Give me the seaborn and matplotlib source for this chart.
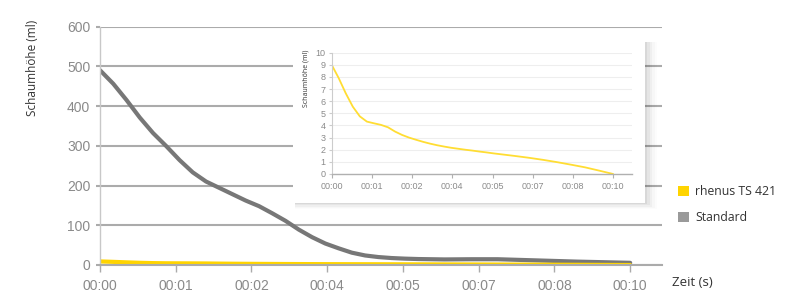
import numpy as np
import pandas as pd
import matplotlib
matplotlib.use("Agg")
import matplotlib.pyplot as plt
from matplotlib.patches import Rectangle, Patch
import seaborn as sns

# ---- data ----
zeit = [0.0, 0.25, 0.5, 0.75, 1.0, 1.25, 1.5, 1.75, 2.0, 2.25, 2.5, 2.75,
        3.0, 3.25, 3.5, 3.75, 4.0, 4.25, 4.5, 4.75, 5.0, 5.25, 5.5, 5.75,
        6.0, 6.5, 7.0, 7.5, 8.0, 8.5, 9.0, 9.5, 10.0]
standard = [490, 456, 415, 371, 332, 299, 264, 233, 210, 194, 178, 162,
            148, 130, 111, 89, 70, 54, 42, 31, 24, 20, 17.5, 16,
            15, 14, 14.5, 14.5, 12.5, 10.5, 8.5, 7, 5.5]
rhenus = [9.0, 7.9, 6.65, 5.55, 4.75, 4.32, 4.18, 4.05, 3.85, 3.5, 3.22, 3.0,
          2.82, 2.65, 2.5, 2.37, 2.26, 2.16, 2.08, 2.0, 1.93, 1.85, 1.78, 1.70,
          1.63, 1.49, 1.34, 1.17, 0.98, 0.77, 0.55, 0.28, 0.0]
tick_pos = list(np.linspace(0, 10, 8))
tick_labels = ["00:00", "00:01", "00:02", "00:04", "00:05", "00:07", "00:08", "00:10"]
series_names = ["rhenus TS 421", "Standard"]

sns.set_theme(style="white")
plt.rcParams["font.family"] = ["Liberation Sans", "DejaVu Sans"]

YELLOW = "#FFD400"
GREY = "#777777"
TICKC = "#8a8a8a"
DARK = "#333333"
OPEN = ["Open Sans", "DejaVu Sans"]

df_std = pd.DataFrame({"t": zeit, "v": standard})
df_rh = pd.DataFrame({"t": zeit, "v": rhenus})

fig = plt.figure(figsize=(8.0, 3.02), dpi=100)
fig.patch.set_facecolor("white")

# ---- main axes ----
ax = fig.add_axes([100/800, 1-265/302, 562/800, 238.5/302])
sns.lineplot(data=df_std, x="t", y="v", ax=ax, color=GREY, lw=3.0)
sns.lineplot(data=df_rh, x="t", y="v", ax=ax, color=YELLOW, lw=3.0)
ax.set_xlim(0, 10.6)
ax.set_ylim(0, 600)
ax.set_yticks(range(0, 601, 100))
ax.set_xticks(tick_pos)
ax.set_xticklabels(tick_labels)
ax.set_xlabel("")
ax.set_ylabel("")
ax.grid(axis="y", color="#ababab", lw=1.5)
ax.set_axisbelow(True)
for s in ["top", "right"]:
    ax.spines[s].set_visible(False)
ax.spines["left"].set_color("#c8c8c8")
ax.spines["left"].set_linewidth(1.0)
ax.spines["bottom"].set_color("#ababab")
ax.spines["bottom"].set_linewidth(1.5)
ax.tick_params(axis="x", direction="out", length=5, width=1.0, color="#ababab",
               labelsize=10, labelcolor=TICKC, pad=5, bottom=True)
ax.tick_params(axis="y", direction="out", length=3, width=1.5, color="#ababab",
               labelsize=10, labelcolor=TICKC, pad=4, left=True)

fig.text(33/800, 1-68/302, "Schaumhöhe (ml)", rotation=90, va="center", ha="center",
         fontsize=8.5, color=DARK, family=OPEN)
fig.text(672/800, 1-282/302, "Zeit (s)", va="center", ha="left",
         fontsize=9.5, color=DARK, family=OPEN)

# ---- legend ----
handles = [Patch(facecolor=YELLOW, edgecolor="none"),
           Patch(facecolor="#9a9a9a", edgecolor="none")]
leg = fig.legend(handles, series_names, loc="upper left",
                 bbox_to_anchor=(667/800, 1-174/302), frameon=False,
                 handlelength=0.9, handleheight=0.9, handletextpad=0.5,
                 labelspacing=1.05, prop={"family": OPEN, "size": 8.8})
for t in leg.get_texts():
    t.set_color(DARK)

# ---- inset box with shadow ----
bx0, by0, bx1, by1 = 293, 42, 645, 203
for i, a in enumerate([0.05, 0.04, 0.03, 0.02, 0.012]):
    d = 2 + i * 2.5
    fig.patches.append(Rectangle(((bx0 + 2) / 800, 1 - (by1 + d * 0.5) / 302),
                                 (bx1 - bx0 - 2 + d) / 800, (by1 - by0 + d * 0.5) / 302,
                                 transform=fig.transFigure, facecolor="black",
                                 edgecolor="none", alpha=a, zorder=5))
fig.patches.append(Rectangle((bx0 / 800, 1 - by1 / 302), (bx1 - bx0) / 800,
                             (by1 - by0) / 302, transform=fig.transFigure,
                             facecolor="white", edgecolor="none", zorder=6))

# ---- inset axes ----
ins = fig.add_axes([331.7/800, 1-174/302, 300/800, 121.3/302], zorder=7)
ins.patch.set_alpha(0)
sns.lineplot(data=df_rh, x="t", y="v", ax=ins, color="#FFDD33", lw=1.3)
ins.set_xlim(0, 10.66)
ins.set_ylim(0, 10)
ins.set_yticks(range(0, 11))
ins.set_xticks(tick_pos)
ins.set_xticklabels(tick_labels)
ins.set_xlabel("")
ins.set_ylabel("")
ins.grid(axis="y", color="#eeeeee", lw=0.8)
ins.set_axisbelow(True)
for s in ["top", "right"]:
    ins.spines[s].set_visible(False)
ins.spines["left"].set_color("#cccccc")
ins.spines["left"].set_linewidth(0.8)
ins.spines["bottom"].set_color("#b0b0b0")
ins.spines["bottom"].set_linewidth(1.0)
ins.tick_params(axis="x", direction="out", length=3, width=0.8, color="#b0b0b0",
                labelsize=6.5, labelcolor=TICKC, pad=3, bottom=True)
ins.tick_params(axis="y", direction="out", length=2.5, width=0.8, color="#cccccc",
                labelsize=6.5, labelcolor=TICKC, pad=2, left=True)
fig.text(306/800, 1-78/302, "Schaumhöhe (ml)", rotation=90, va="center", ha="center",
         fontsize=5, color=DARK, zorder=8, family=OPEN)

fig.savefig("out.png", dpi=100, facecolor="white")
